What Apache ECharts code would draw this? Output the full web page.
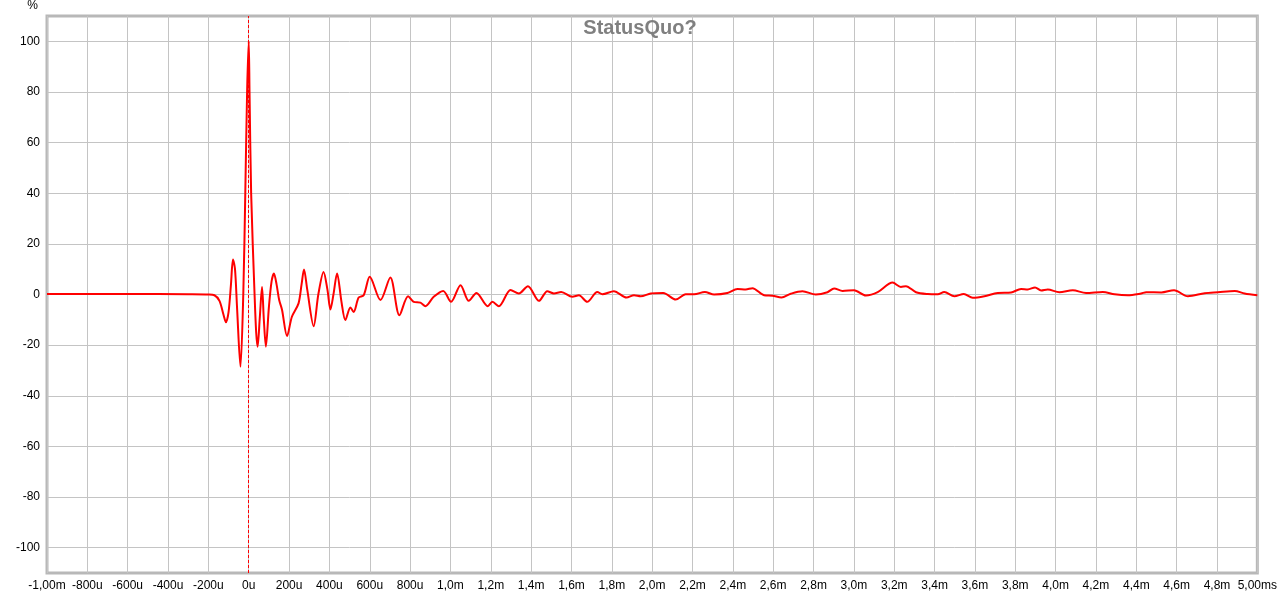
<!DOCTYPE html>
<html>
<head>
<meta charset="utf-8">
<script src="https://cdn.jsdelivr.net/npm/echarts@6/dist/echarts.min.js"></script>
<style>
html,body{margin:0;padding:0;background:#fff;}
#chart{width:1280px;height:594px;}
</style>
</head>
<body>
<div id="chart"></div>
<script>
// time in ms
const times = [-1.0,-0.6,-0.3,-0.2,-0.17,-0.145,-0.125,-0.113,-0.1,-0.088,-0.078,-0.068,-0.058,-0.041,-0.027,-0.017,-0.008,0,0.004,0.012,0.029,0.037,0.044,0.055,0.066,0.075,0.085,0.1,0.113,0.125,0.138,0.151,0.165,0.19,0.214,0.247,0.262,0.274,0.29,0.322,0.345,0.371,0.39,0.405,0.42,0.438,0.46,0.479,0.504,0.52,0.545,0.57,0.6,0.653,0.702,0.747,0.79,0.818,0.851,0.876,0.917,0.964,1.003,1.05,1.091,1.129,1.185,1.208,1.24,1.298,1.339,1.384,1.439,1.48,1.513,1.549,1.604,1.637,1.678,1.728,1.753,1.81,1.873,1.91,1.943,1.993,2.055,2.117,2.166,2.208,2.261,2.307,2.373,2.423,2.464,2.497,2.555,2.597,2.641,2.687,2.745,2.811,2.869,2.902,2.944,3.001,3.059,3.118,3.192,3.233,3.258,3.308,3.366,3.416,3.448,3.498,3.545,3.589,3.647,3.713,3.779,3.829,3.862,3.898,3.928,3.961,4.019,4.085,4.151,4.234,4.292,4.358,4.424,4.449,4.524,4.587,4.656,4.739,4.805,4.888,4.937,5.0];
const values = [0.2,0.2,0.1,0,-0.3,-2.5,-8,-11,-7,4,13.8,10,-5,-28.5,0,40,80,100,80,40,0,-15,-20.6,-9,3,-10,-20.6,-5,5,8.3,4,-2.2,-6,-16.4,-8.8,-3.5,4,9.9,2,-12.5,0,8.9,2,-5.9,0,8.3,-3,-10.1,-5.1,-6.9,-1.2,-0.3,7.0,-2.2,6.7,-8.2,-0.7,-2.9,-3.2,-4.6,-0.9,1.4,-2.9,3.7,-2.5,0.6,-4.6,-2.9,-4.6,1.8,0.4,3.3,-2.5,1.3,0.4,1.0,-0.9,-0.3,-2.9,1.0,0.1,1.3,-1.2,-0.3,-0.7,0.4,0.6,-2.0,0.1,0.1,1.0,0,0.6,2.2,2.0,2.5,-0.3,-0.5,-1.2,0.3,1.3,0,0.9,2.4,1.4,1.7,-0.4,0.9,4.7,3.0,3.3,0.9,0.2,0.1,1.0,-0.7,0.2,-1.3,-0.7,0.6,0.8,2.2,2.0,2.8,1.6,2.0,0.9,1.7,0.6,1.0,0.1,-0.3,0.4,0.9,0.8,1.7,-0.7,0.5,0.9,1.4,0.4,-0.3];
const yTicks = [-100,-80,-60,-40,-20,0,20,40,60,80,100];
const chartTitle = 'StatusQuo?';
const yUnit = '%';

function fmtX(v){
  const r = Math.round(v*1000)/1000;
  if (Math.abs(r + 1) < 1e-9) return '-1,00m';
  if (Math.abs(r - 5) < 1e-9) return '5,00ms';
  if (Math.abs(r) < 1 - 1e-9) return Math.round(r*1000) + 'u';
  return r.toFixed(1).replace('.', ',') + 'm';
}

const data = times.map((t,i)=>[t, values[i]]);
const chart = echarts.init(document.getElementById('chart'), null, {renderer:'canvas'});
const font = 'Liberation Sans, Arial, sans-serif';
chart.setOption({
  animation:false,
  backgroundColor:'#ffffff',
  title:{text:chartTitle,left:'center',top:13,textStyle:{fontFamily:font,fontSize:20,fontWeight:'bold',color:'#808080'}},
  grid:{left:47,right:22,top:14,bottom:21,show:true,borderColor:'#b8b8b8',borderWidth:3,backgroundColor:'#ffffff'},
  xAxis:{type:'value',min:-1,max:5,interval:0.2,
    axisLine:{show:false,onZero:false},axisTick:{show:false},
    splitLine:{show:true,lineStyle:{color:'#c4c4c4',width:1}},
    axisLabel:{formatter:fmtX,color:'#000',fontFamily:font,fontSize:12,margin:7,showMinLabel:true,showMaxLabel:true}},
  yAxis:{type:'value',min:-110,max:110,name:yUnit,nameLocation:'end',nameGap:4,
    nameTextStyle:{fontFamily:font,fontSize:12,color:'#000',align:'right',padding:[0,9,0,0]},
    axisLine:{show:false,onZero:false},
    axisTick:{show:false,customValues:yTicks},
    splitLine:{show:true,lineStyle:{color:'#c4c4c4',width:1}},
    axisLabel:{customValues:yTicks,color:'#000',fontFamily:font,fontSize:12,margin:7}},
  series:[{type:'line',data:data,smooth:0.3,showSymbol:false,
    lineStyle:{color:'#ff0000',width:2},
    markLine:{silent:true,symbol:['none','none'],label:{show:false},
      lineStyle:{color:'#ff0000',type:[3,2],width:1},data:[{xAxis:0}]}}]
});
</script>
</body>
</html>
